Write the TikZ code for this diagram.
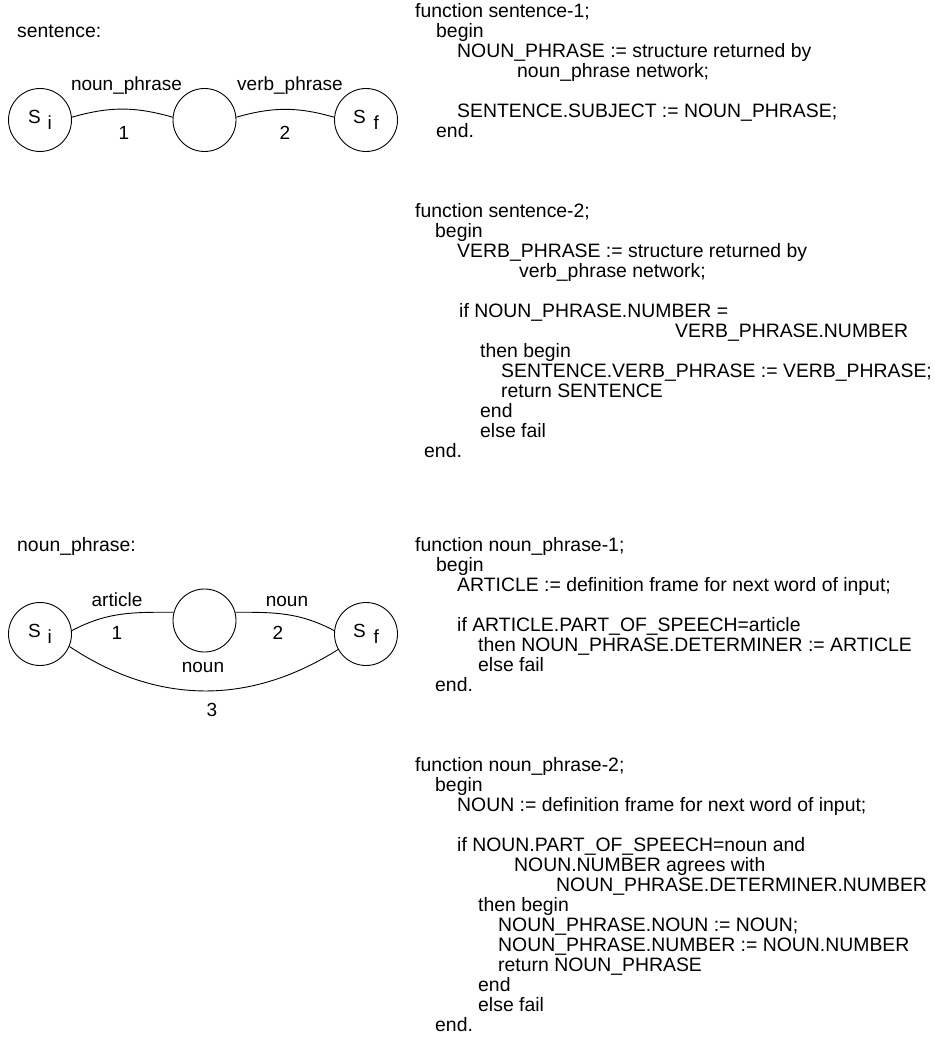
\documentclass[tikz,border=0pt]{standalone}
\usepackage{fontspec}
\setmainfont{Liberation Sans}
\begin{document}
\begin{tikzpicture}[x=1pt,y=1pt,
  txt/.style={anchor=base west, inner sep=0pt, font=\fontsize{19.4}{20}\selectfont},
  lbl/.style={anchor=base, inner sep=0pt, font=\fontsize{19}{21}\selectfont},
  state/.style={draw, circle, minimum size=63pt, inner sep=0pt, line width=0.9pt, font=\fontsize{19}{21}\selectfont},
  arc/.style={line width=0.9pt}]
\useasboundingbox (0,0) rectangle (934,-1051);
% ---------- sentence network ----------
\node[txt] (hs) at (17,-38) {sentence:};
\node[state] (s1) at (40,-120) {S\hspace{7pt}\raisebox{-5.5pt}{i}};
\node[state] (s2) at (204.5,-120) {};
\node[state] (s3) at (366,-120) {S\hspace{8pt}\raisebox{-5.5pt}{f}};
\draw[arc] (s1.5) to[bend left=16] (s2.175);
\draw[arc] (s2.5) to[bend left=16] (s3.175);
\node[lbl] (sl1) at (126.5,-91) {noun\_phrase};
\node[lbl] (sl2) at (290,-91) {verb\_phrase};
\node[lbl] (sn1) at (124,-140) {1};
\node[lbl] (sn2) at (285,-140) {2};
% ---------- noun_phrase network ----------
\node[txt] (hn) at (17,-551) {noun\_phrase:};
\node[state] (n1) at (40,-634) {S\hspace{7pt}\raisebox{-5.5pt}{i}};
\node[state] (n2) at (204.5,-620.5) {};
\node[state] (n3) at (366,-634) {S\hspace{8pt}\raisebox{-5.5pt}{f}};
\draw[arc] (n1.6) to[out=28,in=180] (n2.165);
\draw[arc] (n2.15) to[out=0,in=152] (n3.174);
\draw[arc] (n1.-23) to[bend right=33] (n3.-151);
\node[lbl] (nl1) at (117,-606) {article};
\node[lbl] (nl2) at (287,-606) {noun};
\node[lbl] (nn1) at (117,-639) {1};
\node[lbl] (nn2) at (278,-639) {2};
\node[lbl] (nl3) at (203,-672) {noun};
\node[lbl] (nn3) at (212,-716) {3};
% ---------- sentence-1 ----------
\node[txt] (a1) at (415,-18) {function sentence-1;};
\node[txt] (a2) at (436,-38) {begin};
\node[txt] (a3) at (457,-58) {NOUN\_PHRASE := structure returned by};
\node[txt] (a4) at (517,-78) {noun\_phrase network;};
\node[txt] (a5) at (457,-118) {SENTENCE.SUBJECT := NOUN\_PHRASE;};
\node[txt] (a6) at (436,-138) {end.};
% ---------- sentence-2 ----------
\node[txt] (b1) at (415,-217) {function sentence-2;};
\node[txt] (b2) at (435,-237) {begin};
\node[txt] (b3) at (457,-257) {VERB\_PHRASE := structure returned by};
\node[txt] (b4) at (519,-277) {verb\_phrase network;};
\node[txt] (b5) at (459,-317) {if NOUN\_PHRASE.NUMBER =};
\node[txt] (b6) at (675,-337) {VERB\_PHRASE.NUMBER};
\node[txt] (b7) at (480,-357) {then begin};
\node[txt] (b8) at (501,-377) {SENTENCE.VERB\_PHRASE := VERB\_PHRASE;};
\node[txt] (b9) at (501,-397) {return SENTENCE};
\node[txt] (b10) at (480,-417) {end};
\node[txt] (b11) at (480,-437) {else fail};
\node[txt] (b12) at (424,-457) {end.};
% ---------- noun_phrase-1 ----------
\node[txt] (c1) at (415,-551) {function noun\_phrase-1;};
\node[txt] (c2) at (436,-571) {begin};
\node[txt] (c3) at (457,-591) {ARTICLE := definition frame for next word of input;};
\node[txt] (c4) at (457,-631) {if ARTICLE.PART\_OF\_SPEECH=article};
\node[txt] (c5) at (478,-651) {then NOUN\_PHRASE.DETERMINER := ARTICLE};
\node[txt] (c6) at (478,-671) {else fail};
\node[txt] (c7) at (435,-691) {end.};
% ---------- noun_phrase-2 ----------
\node[txt] (d1) at (415,-771) {function noun\_phrase-2;};
\node[txt] (d2) at (435,-791) {begin};
\node[txt] (d3) at (457,-811) {NOUN := definition frame for next word of input;};
\node[txt] (d4) at (457,-851) {if NOUN.PART\_OF\_SPEECH=noun and};
\node[txt] (d5) at (514,-871) {NOUN.NUMBER agrees with};
\node[txt] (d6) at (556,-891) {NOUN\_PHRASE.DETERMINER.NUMBER};
\node[txt] (d7) at (478,-911) {then begin};
\node[txt] (d8) at (498,-931) {NOUN\_PHRASE.NOUN := NOUN;};
\node[txt] (d9) at (498,-951) {NOUN\_PHRASE.NUMBER := NOUN.NUMBER};
\node[txt] (d10) at (498,-971) {return NOUN\_PHRASE};
\node[txt] (d11) at (478,-991) {end};
\node[txt] (d12) at (478,-1011) {else fail};
\node[txt] (d13) at (435,-1031) {end.};
\end{tikzpicture}
\end{document}
